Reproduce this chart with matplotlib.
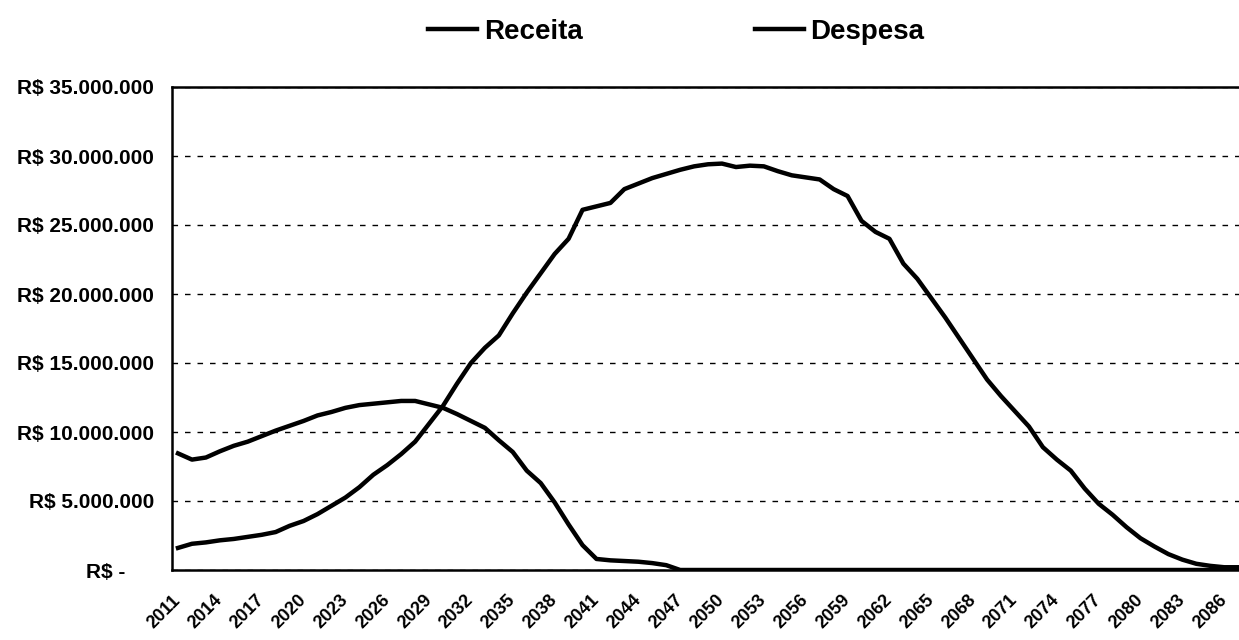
import numpy as np
import matplotlib
matplotlib.use('Agg')
import matplotlib.pyplot as plt
import matplotlib.transforms as mtransforms
from matplotlib import font_manager
from matplotlib.ticker import FixedLocator, FixedFormatter

# anos e valores (em milhoes de R$)
years = list(range(2011, 2088))

receita = [8.45, 8.0, 8.15, 8.6, 9.0, 9.3, 9.7, 10.1, 10.45, 10.8,
           11.2, 11.45, 11.75, 11.95, 12.05, 12.15, 12.25, 12.25, 12.0, 11.75,
           11.3, 10.8, 10.3, 9.4, 8.55, 7.2, 6.3, 4.9, 3.3, 1.8,
           0.8, 0.7, 0.65, 0.6, 0.5, 0.35, 0.0, 0.0, 0.0, 0.0,
           0.0, 0.0, 0.0, 0.0, 0.0, 0.0, 0.0, 0.0, 0.0, 0.0,
           0.0, 0.0, 0.0, 0.0, 0.0, 0.0, 0.0, 0.0, 0.0, 0.0,
           0.0, 0.0, 0.0, 0.0, 0.0, 0.0, 0.0, 0.0, 0.0, 0.0,
           0.0, 0.0, 0.0, 0.0, 0.0, 0.0, 0.0]

despesa = [1.6, 1.9, 2.0, 2.15, 2.25, 2.4, 2.55, 2.75, 3.2, 3.55,
           4.05, 4.65, 5.25, 6.0, 6.9, 7.6, 8.4, 9.3, 10.6, 11.9,
           13.5, 15.0, 16.1, 17.0, 18.6, 20.1, 21.5, 22.9, 24.0, 26.1,
           26.35, 26.6, 27.6, 28.0, 28.4, 28.7, 29.0, 29.25, 29.4, 29.45,
           29.2, 29.3, 29.25, 28.9, 28.6, 28.45, 28.3, 27.6, 27.1, 25.3,
           24.5, 24.0, 22.2, 21.1, 19.7, 18.3, 16.8, 15.3, 13.8, 12.6,
           11.5, 10.4, 8.9, 8.0, 7.2, 5.9, 4.8, 4.0, 3.1, 2.3,
           1.7, 1.15, 0.75, 0.45, 0.3, 0.2, 0.2]

xtick_years = list(range(2011, 2087, 3))
ytick_vals = [0, 5, 10, 15, 20, 25, 30, 35]
ytick_labels = ['R$ -     ', 'R$ 5.000.000', 'R$ 10.000.000', 'R$ 15.000.000',
                'R$ 20.000.000', 'R$ 25.000.000', 'R$ 30.000.000', 'R$ 35.000.000']

names = {f.name for f in font_manager.fontManager.ttflist}
narrow = 'Liberation Sans Narrow' if 'Liberation Sans Narrow' in names else 'Liberation Sans'
plt.rcParams['font.family'] = ['Liberation Sans', 'DejaVu Sans']

fig = plt.figure(figsize=(12.39, 6.4), dpi=100)
ax = fig.add_axes([172/1239, 1 - 570/640, 1 - 172/1239, (570 - 87)/640])

l1, = ax.plot(years, receita, color='black', lw=3.2, label='Receita')
l2, = ax.plot(years, despesa, color='black', lw=3.2, label='Despesa')

ax.set_xlim(2010.57, 2087.06)
ax.set_ylim(0, 35)

ax.yaxis.set_major_locator(FixedLocator(ytick_vals))
ax.yaxis.set_major_formatter(FixedFormatter(ytick_labels))
ax.xaxis.set_major_locator(FixedLocator(xtick_years))
ax.set_xticklabels([str(y) for y in xtick_years], rotation=45, ha='right',
                   rotation_mode='anchor', va='center', fontweight='bold', fontsize=13)
shift = mtransforms.ScaledTranslation(-6/100, 0, fig.dpi_scale_trans)
for t in ax.get_xticklabels():
    t.set_transform(t.get_transform() + shift)
for t in ax.get_yticklabels():
    t.set_fontweight('bold')
    t.set_fontsize(15)
ax.tick_params(axis='y', length=0, pad=13)
ax.tick_params(axis='x', length=0, pad=20)

ax.yaxis.grid(True, linestyle=(0, (4, 5)), color='black', linewidth=1.0)
for s in ['left', 'top', 'bottom']:
    ax.spines[s].set_linewidth(1.8)
ax.spines['right'].set_visible(False)

fig.legend(handles=[l1, l2], loc='center', bbox_to_anchor=(0.546, 0.95),
           ncol=2, frameon=False, handlelength=1.75, handletextpad=0.25,
           columnspacing=6.2,
           prop={'family': narrow, 'weight': 'bold', 'size': 20})

fig.savefig('out.png', dpi=100)
